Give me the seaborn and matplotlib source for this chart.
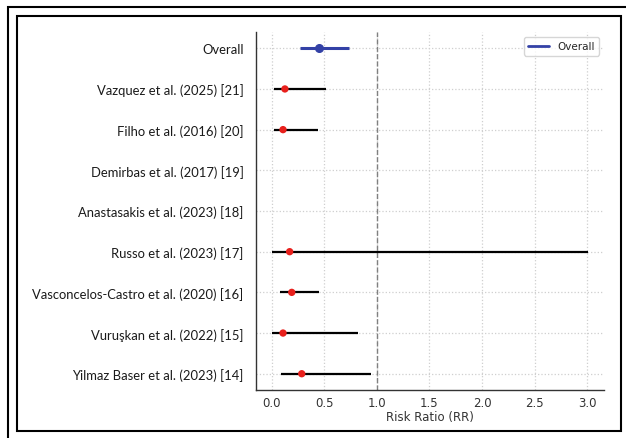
import numpy as np
import pandas as pd
import matplotlib
matplotlib.use("Agg")
import matplotlib.pyplot as plt
from matplotlib.patches import Rectangle
from matplotlib.lines import Line2D
import seaborn as sns

# dati (RR e IC 95%)
studi = ["Yilmaz Baser et al. (2023) [14]",
         "Vuruşkan et al. (2022) [15]",
         "Vasconcelos-Castro et al. (2020) [16]",
         "Russo et al. (2023) [17]",
         "Anastasakis et al. (2023) [18]",
         "Demirbas et al. (2017) [19]",
         "Filho et al. (2016) [20]",
         "Vazquez et al. (2025) [21]"]
rr = [0.285, 0.107, 0.19, 0.17, np.nan, np.nan, 0.107, 0.125]
ci_low = [0.085, 0.0, 0.08, 0.0, np.nan, np.nan, 0.02, 0.02]
ci_high = [0.94, 0.82, 0.45, 3.01, np.nan, np.nan, 0.44, 0.52]

overall_rr = 0.445
overall_low = 0.267
overall_high = 0.73

df = pd.DataFrame({"studio": studi, "rr": rr, "low": ci_low, "high": ci_high})
df["pos"] = np.arange(len(df))
pos_overall = len(df)

sns.set_style("whitegrid")
plt.rcParams["font.family"] = ["DejaVu Sans"]

fig = plt.figure(figsize=(6.26, 4.39), dpi=100)
ax = fig.add_axes([256 / 626, 1 - 391 / 439, (604 - 256) / 626, (391 - 33) / 439])

# intervalli di confidenza degli studi
ok = df.dropna()
ax.hlines(ok["pos"], ok["low"], ok["high"], color="black", lw=1.6, zorder=2)
sns.scatterplot(data=ok, x="rr", y="pos", color="#e8201c", s=28, edgecolor="none", zorder=3, ax=ax)

# stima complessiva
ax.hlines(pos_overall, overall_low, overall_high, color="#3341a6", lw=2.2, zorder=2)
ax.plot(overall_rr, pos_overall, "o", color="#3341a6", ms=5.5, zorder=3)

ax.axvline(1.0, color="#808080", ls="--", lw=1, zorder=1)

ax.set_yticks(list(df["pos"]) + [pos_overall])
ax.set_yticklabels(studi + ["Overall"], fontsize=9.4, family="Lato")
ax.set_xticks(np.arange(0, 3.01, 0.5))
ax.set_xlim(-0.15, 3.16)
ax.set_ylim(-0.4, 8.4)
ax.set_xlabel("Risk Ratio (RR)", fontsize=8.5, color="#333333", labelpad=1)
ax.set_ylabel("")
ax.tick_params(axis="x", labelsize=8.5, colors="#333333", length=2.5, pad=1.5)
ax.tick_params(axis="y", length=3, colors="#333333", pad=6)
for lab in ax.get_yticklabels():
    lab.set_color("#1a1a1a")

ax.grid(True, ls=":", color="#cfcfcf", lw=0.9)
for s in ["top", "right"]:
    ax.spines[s].set_visible(False)
for s in ["left", "bottom"]:
    ax.spines[s].set_color("#333333")
    ax.spines[s].set_linewidth(1.0)

ax.legend(handles=[Line2D([0], [0], color="#3341a6", lw=2)], labels=["Overall"],
          loc="upper right", fontsize=7.5, frameon=True, bbox_to_anchor=(1.0, 1.0))

# doppia cornice nera dello screenshot
fig.patches.append(Rectangle((8 / 626, -0.05), 1.1, 1 - 8 / 439 + 0.05, transform=fig.transFigure,
                             fill=False, edgecolor="black", lw=1.5))
fig.patches.append(Rectangle((17 / 626, 1 - 432 / 439), (621 - 17) / 626, (432 - 17) / 439,
                             transform=fig.transFigure, fill=False, edgecolor="black", lw=1.5))

fig.savefig("out.png", dpi=100)
